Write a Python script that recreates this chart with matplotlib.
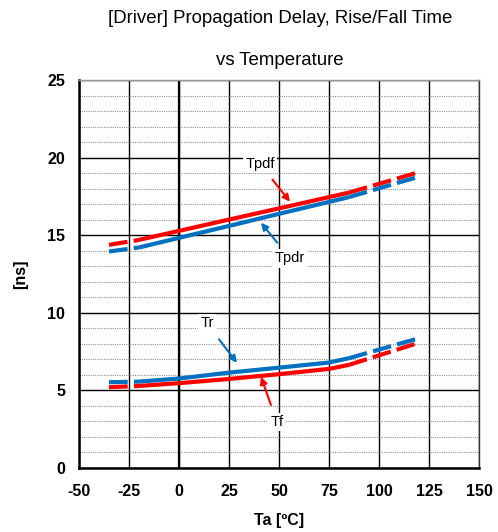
import numpy as np
import matplotlib.pyplot as plt
from matplotlib.ticker import MultipleLocator

plt.rcParams['font.family'] = ['Liberation Sans', 'DejaVu Sans']
plt.rcParams['axes.unicode_minus'] = False

# Data
temp = [-20, 0, 25, 50, 75, 85]
tpdf = [14.69, 15.27, 16.0, 16.72, 17.45, 17.74]
tpdr = [14.2, 14.82, 15.59, 16.37, 17.14, 17.45]
tr = [5.55, 5.75, 6.13, 6.45, 6.78, 7.06]
tf = [5.27, 5.45, 5.72, 6.03, 6.37, 6.63]

# extrapolated (dashed) ends
temp_lo = [-35, -20]
temp_hi = [85, 120]
tpdf_lo, tpdf_hi = [14.37, 14.69], [17.74, 19.06]
tpdr_lo, tpdr_hi = [13.94, 14.2], [17.45, 18.77]
tr_lo, tr_hi = [5.51, 5.55], [7.06, 8.35]
tf_lo, tf_hi = [5.19, 5.27], [6.63, 8.06]

red = '#FF0000'
blue = '#0070C0'

fig = plt.figure(figsize=(4.98, 5.32), dpi=100)
ax = fig.add_axes([0.1586, 0.1209, 0.8032, 0.7287])

ax.set_xlim(-50, 150)
ax.set_ylim(0, 25)
ax.xaxis.set_major_locator(MultipleLocator(25))
ax.yaxis.set_major_locator(MultipleLocator(5))
ax.yaxis.set_minor_locator(MultipleLocator(1))

ax.grid(which='minor', axis='y', color='#909090', linestyle=(0, (1, 1)), linewidth=0.8)
ax.grid(which='major', axis='both', color='black', linewidth=1.0)
ax.set_axisbelow(True)
ax.axvline(0, color='black', linewidth=1.6, zorder=1)

for s in ['left', 'bottom']:
    ax.spines[s].set_linewidth(1.8)
ax.spines['right'].set_color('#333333')
ax.spines['right'].set_linewidth(1.0)
ax.spines['top'].set_color('#999999')
ax.spines['top'].set_linewidth(1.0)

ax.tick_params(which='both', length=0)
ax.tick_params(axis='x', pad=12)
ax.tick_params(axis='y', pad=10)
for lab in ax.get_xticklabels() + ax.get_yticklabels():
    lab.set_fontweight('bold')
    lab.set_fontsize(11.5)

dash = (4.5, 1.5)
for lo, mid, hi, col in [(tpdf_lo, tpdf, tpdf_hi, red),
                         (tpdr_lo, tpdr, tpdr_hi, blue),
                         (tr_lo, tr, tr_hi, blue),
                         (tf_lo, tf, tf_hi, red)]:
    ax.plot(temp, mid, color=col, linewidth=3, solid_capstyle='butt', zorder=3)
    ax.plot(temp_lo, lo, color=col, linewidth=3, dashes=dash, zorder=3)
    ax.plot(temp_hi, hi, color=col, linewidth=3, dashes=dash, zorder=3)

box = dict(boxstyle='square,pad=0.15', fc='white', ec='none')
ax.annotate('Tpdf', xy=(55.5, 17.15), xytext=(40.5, 19.6), ha='center', va='center',
            fontsize=10.5, bbox=box, zorder=4,
            arrowprops=dict(arrowstyle='-|>', color=red, lw=1.5, shrinkA=6, shrinkB=0))
ax.annotate('Tpdr', xy=(41, 15.8), xytext=(55.5, 13.5), ha='center', va='center',
            fontsize=10.5, bbox=box, zorder=4,
            arrowprops=dict(arrowstyle='-|>', color=blue, lw=1.5, shrinkA=6, shrinkB=0))
ax.annotate('Tr', xy=(29, 6.76), xytext=(14, 9.3), ha='center', va='center',
            fontsize=10.5, bbox=box, zorder=4,
            arrowprops=dict(arrowstyle='-|>', color=blue, lw=1.5, shrinkA=6, shrinkB=0))
ax.annotate('Tf', xy=(41, 5.86), xytext=(49, 2.95), ha='center', va='center',
            fontsize=10.5, bbox=box, zorder=4,
            arrowprops=dict(arrowstyle='-|>', color=red, lw=1.5, shrinkA=6, shrinkB=0))

ax.set_xlabel('Ta [ºC]', fontsize=11.5, fontweight='bold', labelpad=10)
ax.set_ylabel('[ns]', fontsize=11.5, fontweight='bold', labelpad=14)

fig.text(0.562, 0.966, '[Driver] Propagation Delay, Rise/Fall Time', ha='center', va='center',
         fontsize=13.4)
fig.text(0.562, 0.887, 'vs Temperature', ha='center', va='center', fontsize=13.4)

fig.savefig('out.png', dpi=100)
